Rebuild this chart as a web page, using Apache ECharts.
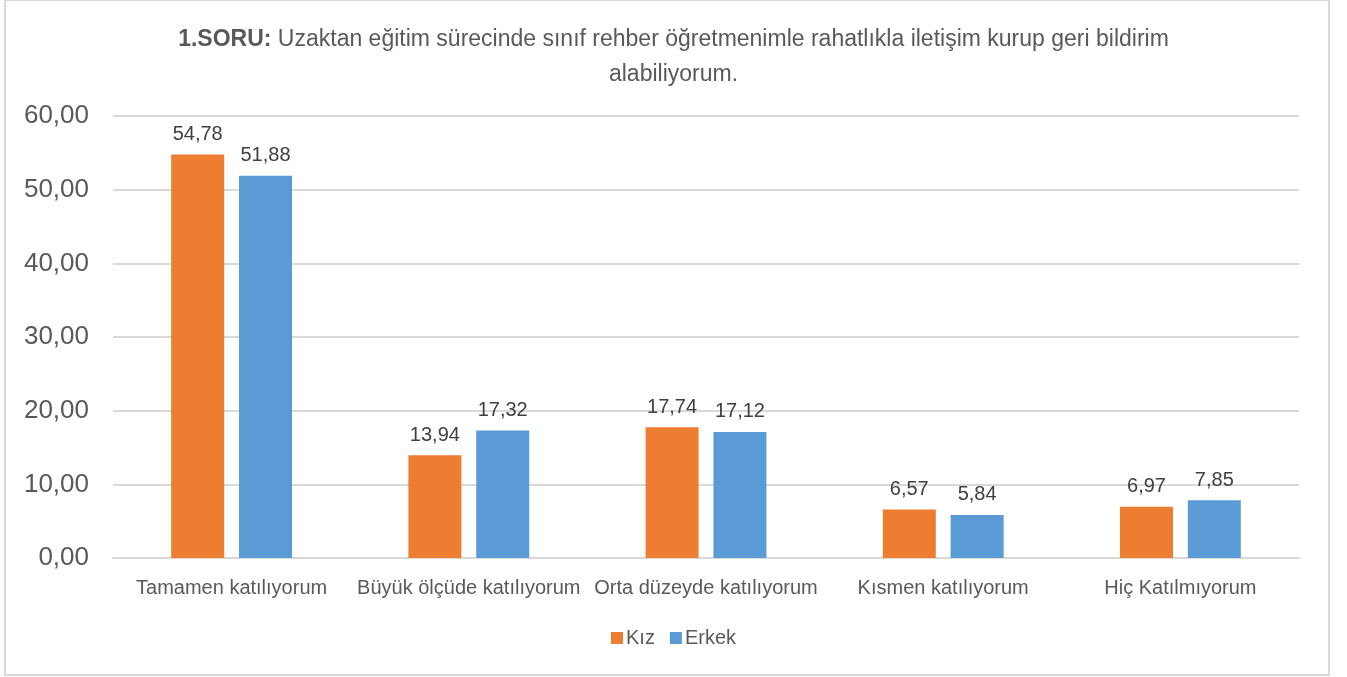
<!DOCTYPE html>
<html>
<head>
<meta charset="utf-8">
<script src="https://cdn.jsdelivr.net/npm/echarts@6/dist/echarts.min.js"></script>
<style>
  html, body { margin: 0; padding: 0; background: #fff; }
  #chart { width: 1347px; height: 677px; }
</style>
</head>
<body>
<div id="chart"></div>
<script>
const categories = ['Tamamen katılıyorum', 'Büyük ölçüde katılıyorum', 'Orta düzeyde katılıyorum', 'Kısmen katılıyorum', 'Hiç Katılmıyorum']
const kizValues = [54.78, 13.94, 17.74, 6.57, 6.97]
const erkekValues = [51.88, 17.32, 17.12, 5.84, 7.85]
const seriesNames = ['Kız', 'Erkek']

const fmt = v => Number(v).toFixed(2).replace('.', ',')
const font = '"Liberation Sans", Arial, sans-serif'
const textColor = '#595959'

const chart = echarts.init(document.getElementById('chart'))
chart.setOption({
  animation: false,
  textStyle: { fontFamily: font },
  title: {
    text: '{b|1.SORU:} Uzaktan eğitim sürecinde sınıf rehber öğretmenimle rahatlıkla iletişim kurup geri bildirim\nalabiliyorum.',
    left: 'center',
    top: 17,
    textStyle: {
      fontSize: 23,
      fontWeight: 'normal',
      color: textColor,
      lineHeight: 35,
      fontFamily: font,
      rich: {
        b: { fontSize: 23, fontWeight: 'bold', color: textColor, fontFamily: font, lineHeight: 35 }
      }
    }
  },
  graphic: [{
    type: 'rect',
    shape: { x: 5, y: 0, width: 1324, height: 675 },
    style: { fill: 'none', stroke: '#d9d9d9', lineWidth: 2 },
    silent: true
  }],
  legend: {
    bottom: 24,
    left: 'center',
    itemWidth: 12,
    itemHeight: 12,
    itemGap: 15,
    icon: 'rect',
    textStyle: { fontSize: 20, color: textColor, padding: [0, 0, 0, -2] },
    data: seriesNames
  },
  grid: { left: 113, right: 48, top: 116, bottom: 119 },
  xAxis: {
    type: 'category',
    data: categories,
    axisTick: { show: false },
    axisLine: { lineStyle: { color: '#d9d9d9', width: 2 } },
    axisLabel: { fontSize: 20, color: textColor, margin: 20, interval: 0 }
  },
  yAxis: {
    type: 'value',
    min: 0,
    max: 60,
    interval: 10,
    axisLine: { show: false },
    axisTick: { show: false },
    splitLine: { lineStyle: { color: '#d9d9d9', width: 2 } },
    axisLabel: { fontSize: 26, color: textColor, margin: 24, formatter: fmt }
  },
  series: [
    {
      name: seriesNames[0],
      type: 'bar',
      data: kizValues,
      barWidth: 53,
      barGap: '28%',
      itemStyle: { color: '#ed7d31' },
      label: { show: true, position: 'top', distance: 10, fontSize: 20, color: '#404040', formatter: p => fmt(p.value) }
    },
    {
      name: seriesNames[1],
      type: 'bar',
      data: erkekValues,
      barWidth: 53,
      barGap: '28%',
      itemStyle: { color: '#5b9bd5' },
      label: { show: true, position: 'top', distance: 10, fontSize: 20, color: '#404040', formatter: p => fmt(p.value) }
    }
  ]
})
</script>
</body>
</html>
